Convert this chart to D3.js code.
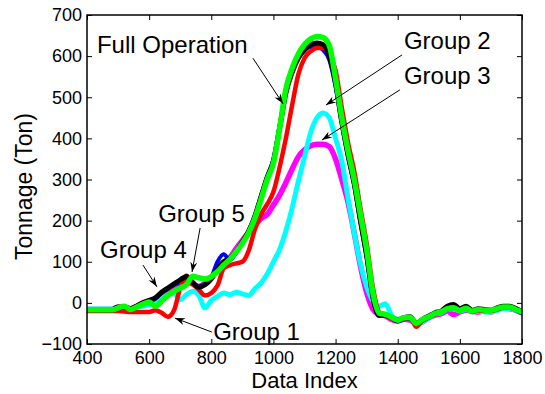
<!DOCTYPE html>
<html>
<head>
<meta charset="utf-8">
<script src="https://cdn.jsdelivr.net/npm/d3@7"></script>
<style>
  body { margin: 0; background: #fff; }
  svg { display: block; font-family: "Liberation Sans", Arial, sans-serif; }
</style>
</head>
<body>
<div id="chart"></div>
<script>
// sample positions (data index), every 20
const dataIndex = d3.range(400, 1801, 20);

// tonnage per series, one value per data index
const fullOperation = [
  -17, -17, -17, -17, -17, -12, -10, -15, -9, -2,
  5, 10, 24, 34, 44, 50, 60, 48, 40, 46,
  62, 100, 118, 104, 122, 148, 175, 212, 260, 308,
  350, 432, 515, 565, 598, 615, 622, 622, 615, 590,
  525, 435, 355, 285, 195, 110, 10, -32, -32, -38,
  -45, -40, -38, -52, -44, -36, -28, -22, -14, -10,
  -18, -12, -20, -18, -20, -20, -15, -12, -12, -18, -26
];
const group1 = [
  -20, -20, -20, -20, -20, -20, -21, -22, -22, -22,
  -22, -18, -24, -34, -18, 36, 66, 46, 32, 18,
  24, 42, 84, 92, 96, 100, 126, 178, 215, 240,
  270, 330, 400, 480, 555, 595, 612, 620, 620, 605,
  565, 475, 390, 320, 230, 145, 38, -22, -30, -38,
  -40, -38, -36, -58, -42, -35, -28, -22, -16, -12,
  -18, -14, -22, -18, -20, -20, -16, -12, -12, -16, -22
];
const group2 = [
  -15, -15, -15, -15, -15, -12, -10, -15, -10, -8,
  -4, 2, 10, 20, 24, 8, 20, 28, 18, -12,
  6, 16, 24, 20, 26, 22, 18, 34, 48, 70,
  100, 130, 175, 230, 295, 355, 415, 450, 462, 450,
  400, 345, 255, 170, 95, 40, 5, -8, -2, -30,
  -40, -38, -36, -50, -46, -36, -28, -24, -16, -14,
  -20, -16, -22, -20, -22, -22, -18, -14, -14, -18, -24
];
const group3 = [
  -16, -16, -16, -16, -16, -10, -10, -14, -8, 0,
  4, 10, 22, 32, 42, 48, 52, 46, 40, 48,
  62, 80, 98, 110, 132, 152, 170, 188, 205, 215,
  238, 262, 292, 325, 355, 372, 382, 386, 386, 380,
  350, 300, 245, 170, 90, 25, -15, -28, -32, -40,
  -44, -40, -42, -50, -46, -36, -30, -26, -20, -28,
  -22, -18, -20, -22, -18, -22, -14, -10, -14, -18, -24
];
const group4 = [
  -17, -17, -17, -17, -17, -10, -10, -14, -8, 0,
  6, 12, 26, 36, 46, 56, 64, 50, 38, 44,
  58, 82, 100, 108, 124, 148, 174, 210, 258, 305,
  345, 425, 510, 560, 595, 615, 628, 632, 628, 600,
  535, 440, 360, 290, 200, 115, 15, -30, -30, -36,
  -42, -36, -34, -50, -40, -32, -24, -20, -8, -4,
  -14, -8, -18, -14, -16, -18, -12, -8, -8, -14, -22
];
const group5 = [
  -17, -17, -17, -17, -17, -12, -8, -16, -10, -3,
  2, -8, 4, 18, 28, 36, 44, 65, 61, 58,
  64, 76, 92, 106, 124, 145, 170, 205, 252, 300,
  340, 425, 520, 570, 605, 628, 642, 648, 645, 625,
  545, 450, 370, 300, 215, 130, 25, -25, -28, -35,
  -42, -36, -35, -50, -40, -34, -26, -22, -14, -12,
  -18, -13, -20, -16, -18, -18, -14, -10, -10, -16, -22
];

const xTicks = [400, 600, 800, 1000, 1200, 1400, 1600, 1800];
const yTicks = [-100, 0, 100, 200, 300, 400, 500, 600, 700];

// drawing order: last one on top
const series = [
  { name: 'Group 3', values: group3, color: '#ff00ff', width: 5.5 },
  { name: 'Group 2', values: group2, color: '#00ffff', width: 5 },
  { name: 'Full Operation', values: fullOperation, color: '#0000ff', width: 4 },
  { name: 'Group 1', values: group1, color: '#ff0000', width: 4.5 },
  { name: 'Group 4', values: group4, color: '#000000', width: 5 },
  { name: 'Group 5', values: group5, color: '#00ff00', width: 5.5 }
];

// text anchor and arrow (from -> to), in data units
const annotations = [
  { text: 'Full Operation', at: [432, 608], from: [934, 595], to: [1031, 484] },
  { text: 'Group 2', at: [1420, 617], from: [1414, 603], to: [1169, 481] },
  { text: 'Group 3', at: [1420, 532], from: [1407, 518], to: [1156, 396] },
  { text: 'Group 5', at: [629, 197], from: [764, 182], to: [738, 75] },
  { text: 'Group 4', at: [442, 109], from: [580, 92], to: [625, 39] },
  { text: 'Group 1', at: [806, -90], from: [802, -71], to: [683, -37] }
];

const W = 545, H = 394;
const margin = { top: 15, right: 23, bottom: 50, left: 87 };
const width = W - margin.left - margin.right;
const height = H - margin.top - margin.bottom;

const svg = d3.select('#chart').append('svg')
  .attr('width', W)
  .attr('height', H);

const defs = svg.append('defs');
defs.append('marker')
  .attr('id', 'head')
  .attr('viewBox', '-10 -5 12 10')
  .attr('refX', 0)
  .attr('refY', 0)
  .attr('markerWidth', 12)
  .attr('markerHeight', 10)
  .attr('markerUnits', 'userSpaceOnUse')
  .attr('orient', 'auto')
  .append('path')
  .attr('d', 'M0,0 L-10,-3.5 L-7,0 L-10,3.5 Z')
  .attr('fill', '#000');

defs.append('clipPath').attr('id', 'plot-clip')
  .append('rect')
  .attr('width', width)
  .attr('height', height);

const g = svg.append('g')
  .attr('transform', `translate(${margin.left},${margin.top})`);

const x = d3.scaleLinear().domain([400, 1800]).range([0, width]);
const y = d3.scaleLinear().domain([-100, 700]).range([height, 0]);

// lines
const line = d3.line()
  .x((d, i) => x(dataIndex[i]))
  .y((d) => y(d))
  .curve(d3.curveMonotoneX);

const plot = g.append('g').attr('clip-path', 'url(#plot-clip)');
series.forEach((s) => {
  plot.append('path')
    .datum(s.values)
    .attr('fill', 'none')
    .attr('stroke', s.color)
    .attr('stroke-width', s.width)
    .attr('stroke-linejoin', 'round')
    .attr('stroke-linecap', 'round')
    .attr('d', line);
});

// axes (ticks inside, box all round)
const tickLen = 5;
const styleAxis = (sel) => {
  sel.select('.domain').remove();
  sel.selectAll('line').attr('stroke', '#000').attr('stroke-width', 1);
  sel.selectAll('text')
    .attr('fill', '#000')
    .style('font-size', '18px');
};

g.append('g')
  .attr('transform', `translate(0,${height})`)
  .call(d3.axisBottom(x).tickValues(xTicks).tickSize(-tickLen).tickPadding(7).tickFormat(d3.format('d')))
  .call(styleAxis);

g.append('g')
  .call(d3.axisTop(x).tickValues(xTicks).tickSize(-tickLen).tickFormat(''))
  .call(styleAxis);

g.append('g')
  .call(d3.axisLeft(y).tickValues(yTicks).tickSize(-tickLen).tickPadding(5).tickFormat(d3.format('d')))
  .call(styleAxis);

g.append('g')
  .attr('transform', `translate(${width},0)`)
  .call(d3.axisRight(y).tickValues(yTicks).tickSize(-tickLen).tickFormat(''))
  .call(styleAxis);

g.append('rect')
  .attr('width', width)
  .attr('height', height)
  .attr('fill', 'none')
  .attr('stroke', '#000')
  .attr('stroke-width', 1.5);

// axis labels
svg.append('text')
  .attr('x', margin.left + width / 2)
  .attr('y', 388)
  .attr('text-anchor', 'middle')
  .style('font-size', '22px')
  .text('Data Index');

svg.append('text')
  .attr('transform', `translate(32,${margin.top + height / 2 + 7}) rotate(-90)`)
  .attr('text-anchor', 'middle')
  .style('font-size', '23px')
  .text('Tonnage (Ton)');

// annotations
const ann = g.append('g');
annotations.forEach((a) => {
  ann.append('line')
    .attr('x1', x(a.from[0]))
    .attr('y1', y(a.from[1]))
    .attr('x2', x(a.to[0]))
    .attr('y2', y(a.to[1]))
    .attr('stroke', '#000')
    .attr('stroke-width', 1)
    .attr('marker-end', 'url(#head)');
  ann.append('text')
    .attr('x', x(a.at[0]))
    .attr('y', y(a.at[1]))
    .style('font-size', '24px')
    .attr('fill', '#000')
    .text(a.text);
});
</script>
</body>
</html>
